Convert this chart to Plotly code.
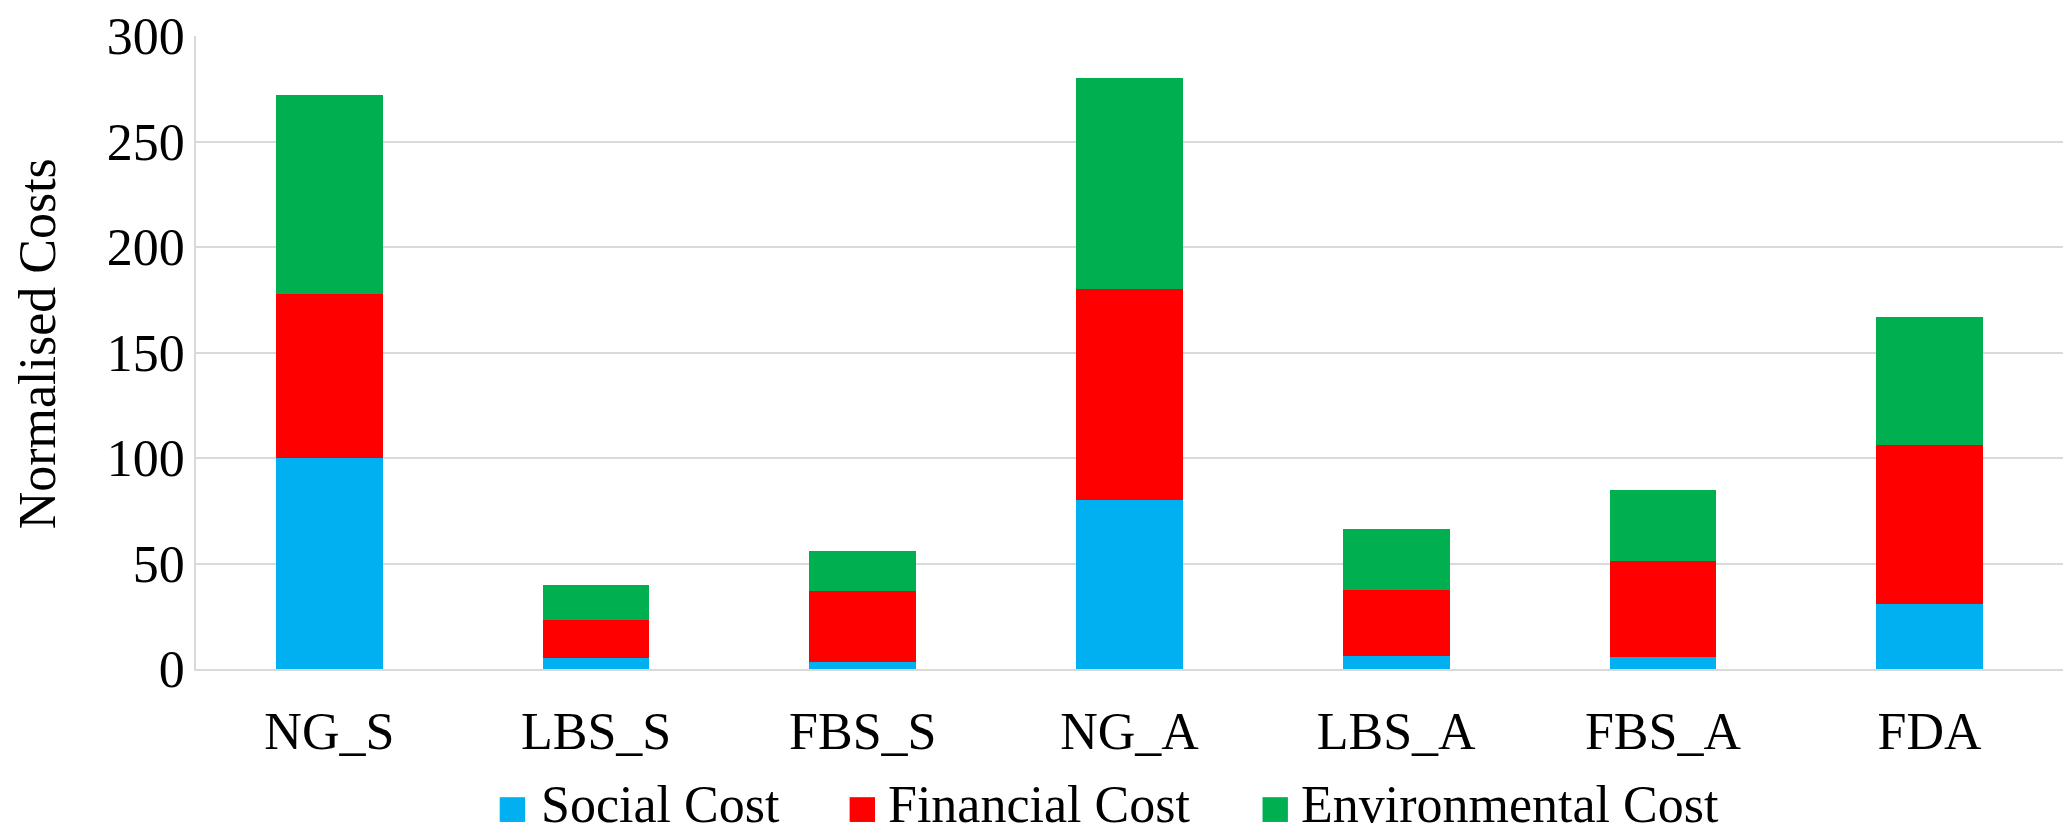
import plotly.graph_objects as go

# Scenario categories and the three stacked cost components
categories = ["NG_S", "LBS_S", "FBS_S", "NG_A", "LBS_A", "FBS_A", "FDA"]
social_cost = [100, 5, 3.2, 80, 6, 5.6, 30.6]
financial_cost = [77.6, 18.4, 33.8, 100, 31.3, 45.7, 75.7]
environmental_cost = [94.4, 16.3, 19, 100, 29, 33.6, 60.3]

series_names = ["Social Cost", "Financial Cost", "Environmental Cost"]
series_colors = ["#00B0F0", "#FF0000", "#00B050"]
series_values = [social_cost, financial_cost, environmental_cost]

FONT = "Liberation Serif, Times New Roman, serif"
FS = 52
W, H = 2071, 833
L, R, T, B = 195.5, 8, 30.5, 164

fig = go.Figure()
for name, color, vals in zip(series_names, series_colors, series_values):
    fig.add_trace(go.Bar(
        x=categories, y=vals, name=name,
        marker=dict(color=color, line=dict(width=0)),
        showlegend=False,
    ))

# Pixel -> paper coordinate helpers for the legend and axis title
def px_x(x):
    return (x - L) / (W - L - R)

def px_y(y):
    return (H - B - y) / (H - T - B)

legend_items = [(499.3, 540), (849.3, 887), (1262.3, 1300)]
shapes = []
annotations = []
for (sx, tx), name, color in zip(legend_items, series_names, series_colors):
    shapes.append(dict(
        type="rect", xref="paper", yref="paper",
        x0=px_x(sx), x1=px_x(sx + 25.4), y0=px_y(823.3), y1=px_y(798.3),
        fillcolor=color, line=dict(width=0),
    ))
    annotations.append(dict(
        text=name, xref="paper", yref="paper",
        x=px_x(tx), y=px_y(832), xanchor="left", yanchor="bottom",
        borderpad=0, showarrow=False, yshift=-3,
        font=dict(family=FONT, size=FS, color="black"),
    ))

# Vertical axis title
annotations.append(dict(
    text="Normalised Costs", xref="paper", yref="paper",
    x=px_x(37), y=px_y(341), xanchor="center", yanchor="middle",
    textangle=-90, showarrow=False, borderpad=0,
    font=dict(family=FONT, size=FS, color="black"),
))

fig.update_layout(
    width=W, height=H,
    margin=dict(l=L, r=R, t=T, b=B, pad=0),
    paper_bgcolor="white", plot_bgcolor="white",
    barmode="stack", bargap=0.6,
    font=dict(family=FONT, size=FS, color="black"),
    shapes=shapes, annotations=annotations,
    xaxis=dict(
        showline=True, linecolor="#d9d9d9", linewidth=1.5,
        showgrid=False, ticks="", ticklabelstandoff=16,
        tickfont=dict(family=FONT, size=FS, color="black"),
    ),
    yaxis=dict(
        range=[0, 300], dtick=50, tick0=0,
        showline=True, linecolor="#d9d9d9", linewidth=1.5,
        showgrid=True, gridcolor="#d9d9d9", gridwidth=1.5,
        zeroline=False, ticks="", ticklabelstandoff=-1,
        tickfont=dict(family=FONT, size=FS, color="black"),
    ),
)

fig.write_html("out.html")
